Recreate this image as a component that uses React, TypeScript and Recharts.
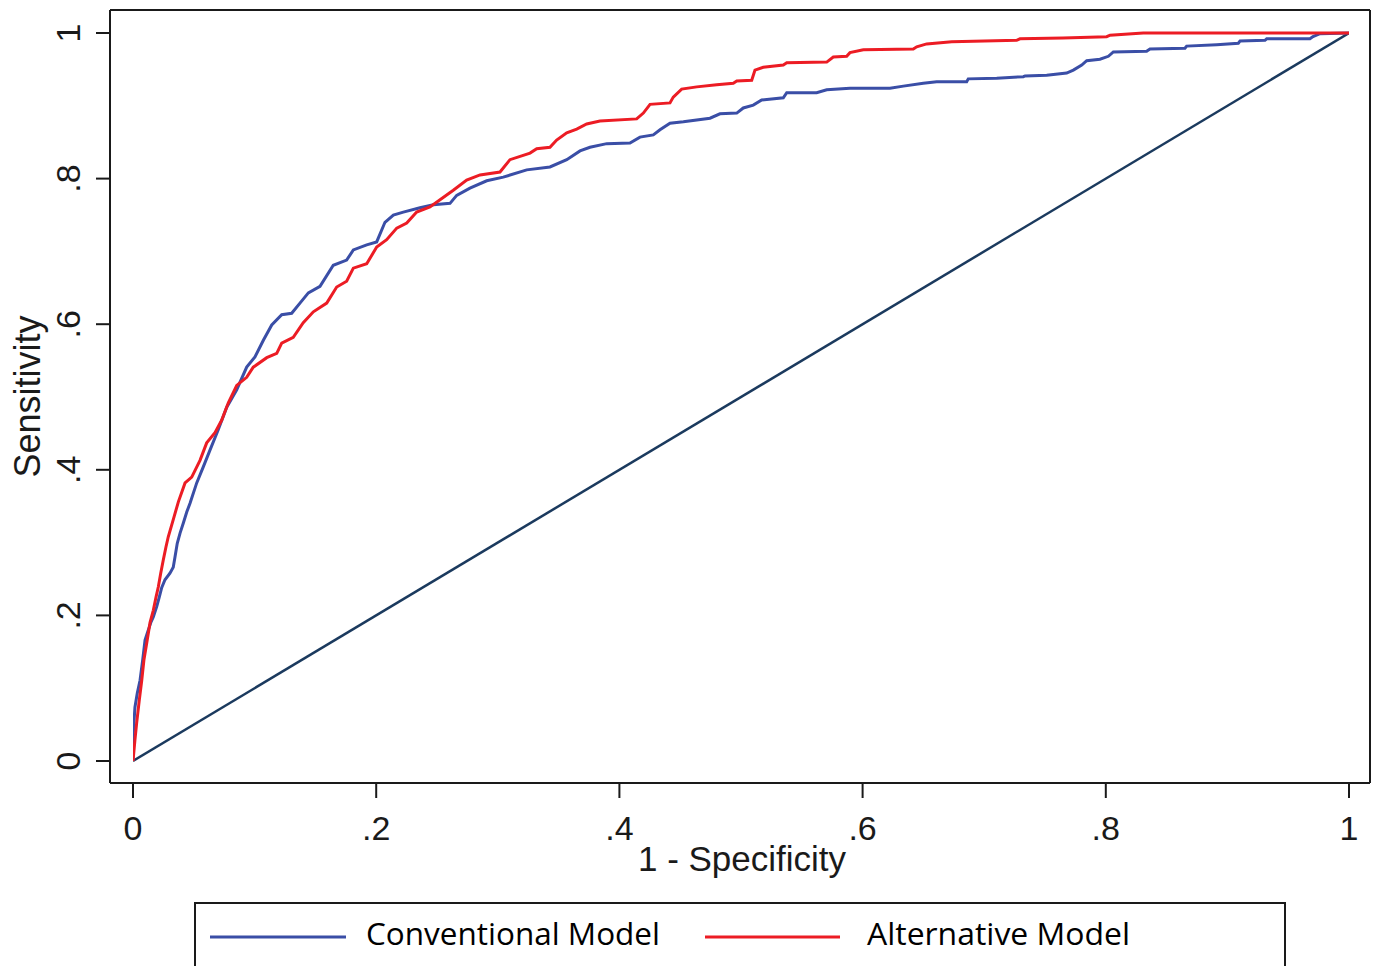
import React from 'react';
import { LineChart, Line, XAxis, YAxis, Legend } from 'recharts';

// 1 - Specificity (x) and Sensitivity (y)
const convX = [0, 0.0002, 0.0016, 0.0035, 0.0058, 0.008, 0.0099, 0.0118, 0.0146, 0.0167, 0.0195, 0.0216, 0.0236, 0.0263, 0.0304, 0.0331, 0.0345, 0.0364, 0.0387, 0.0414, 0.0442, 0.0469, 0.0524, 0.0578, 0.0633, 0.0701, 0.0771, 0.0853, 0.0935, 0.1003, 0.1072, 0.1141, 0.1223, 0.1305, 0.1373, 0.1442, 0.1538, 0.1647, 0.1757, 0.1812, 0.1922, 0.2004, 0.2072, 0.2141, 0.2223, 0.236, 0.247, 0.2607, 0.2662, 0.2771, 0.2909, 0.3045, 0.3238, 0.3429, 0.3567, 0.3676, 0.3758, 0.3896, 0.4087, 0.4169, 0.4279, 0.4334, 0.4416, 0.4526, 0.4745, 0.4827, 0.4965, 0.5019, 0.5101, 0.517, 0.5348, 0.5376, 0.5622, 0.5705, 0.5896, 0.6225, 0.6335, 0.6499, 0.6609, 0.6856, 0.6869, 0.7103, 0.7322, 0.7336, 0.7514, 0.7678, 0.7733, 0.7802, 0.7843, 0.7952, 0.8021, 0.8062, 0.8336, 0.8363, 0.8651, 0.8665, 0.8912, 0.909, 0.9104, 0.9309, 0.9323, 0.9679, 0.9704, 0.9762, 1];
const convY = [0, 0.038, 0.074, 0.093, 0.111, 0.139, 0.166, 0.176, 0.19, 0.198, 0.212, 0.225, 0.238, 0.249, 0.258, 0.266, 0.28, 0.299, 0.313, 0.327, 0.342, 0.354, 0.382, 0.404, 0.427, 0.455, 0.486, 0.51, 0.541, 0.555, 0.578, 0.599, 0.613, 0.615, 0.629, 0.643, 0.652, 0.681, 0.688, 0.702, 0.709, 0.713, 0.74, 0.75, 0.754, 0.76, 0.764, 0.766, 0.777, 0.787, 0.797, 0.802, 0.812, 0.816, 0.826, 0.838, 0.843, 0.848, 0.849, 0.857, 0.86, 0.867, 0.876, 0.878, 0.883, 0.889, 0.89, 0.897, 0.901, 0.908, 0.911, 0.918, 0.918, 0.922, 0.924, 0.924, 0.927, 0.931, 0.933, 0.933, 0.937, 0.938, 0.94, 0.941, 0.942, 0.945, 0.949, 0.956, 0.962, 0.964, 0.968, 0.974, 0.975, 0.978, 0.979, 0.982, 0.984, 0.986, 0.989, 0.99, 0.992, 0.992, 0.995, 0.999, 1];

const altX = [0, 0.0016, 0.003, 0.0052, 0.0072, 0.009, 0.0113, 0.014, 0.0167, 0.0189, 0.0208, 0.0228, 0.0249, 0.0271, 0.029, 0.0318, 0.0337, 0.0373, 0.0428, 0.0483, 0.0551, 0.0606, 0.0674, 0.0729, 0.0784, 0.0853, 0.0935, 0.0989, 0.11, 0.1182, 0.1223, 0.1318, 0.14, 0.1483, 0.1593, 0.1675, 0.1757, 0.1812, 0.1922, 0.2004, 0.2086, 0.2169, 0.2251, 0.2333, 0.2442, 0.2525, 0.2634, 0.2744, 0.2854, 0.3018, 0.31, 0.3265, 0.332, 0.3429, 0.3484, 0.3567, 0.3649, 0.3731, 0.384, 0.4142, 0.4197, 0.4252, 0.4416, 0.4443, 0.4512, 0.4636, 0.48, 0.4937, 0.4965, 0.5088, 0.5115, 0.5183, 0.5348, 0.5376, 0.5705, 0.5759, 0.5869, 0.5896, 0.6006, 0.6417, 0.6445, 0.6527, 0.6733, 0.7267, 0.7294, 0.7648, 0.8007, 0.8035, 0.8308, 1];
const altY = [0, 0.029, 0.052, 0.084, 0.111, 0.139, 0.162, 0.19, 0.207, 0.225, 0.239, 0.258, 0.276, 0.294, 0.308, 0.324, 0.335, 0.356, 0.382, 0.39, 0.413, 0.437, 0.451, 0.468, 0.492, 0.516, 0.527, 0.541, 0.554, 0.56, 0.574, 0.582, 0.602, 0.617, 0.629, 0.651, 0.659, 0.677, 0.683, 0.706, 0.716, 0.732, 0.739, 0.754, 0.761, 0.771, 0.784, 0.798, 0.805, 0.809, 0.826, 0.835, 0.841, 0.843, 0.853, 0.863, 0.868, 0.875, 0.879, 0.882, 0.89, 0.902, 0.904, 0.912, 0.923, 0.926, 0.929, 0.931, 0.934, 0.935, 0.949, 0.953, 0.956, 0.959, 0.96, 0.967, 0.968, 0.973, 0.977, 0.978, 0.981, 0.985, 0.988, 0.99, 0.992, 0.993, 0.995, 0.997, 1, 1];

const refX = [0, 1];
const refY = [0, 1];

const tickValues = [0, 0.2, 0.4, 0.6, 0.8, 1];
const tickLabels = ['0', '.2', '.4', '.6', '.8', '1'];

const seriesNames = ['Conventional Model', 'Alternative Model'];
const BLUE = '#3a4ea6';
const RED = '#ec1c24';
const NAVY = '#1b3a5e';
const INK = '#1a1a1a';

const toRows = (xs: number[], ys: number[]) => xs.map((x, i) => ({ x, y: ys[i] }));
const convData = toRows(convX, convY);
const altData = toRows(altX, altY);
const refData = toRows(refX, refY);

const labelFor = (v: number) => {
  const i = tickValues.findIndex((t) => Math.abs(t - v) < 1e-9);
  return i >= 0 ? tickLabels[i] : String(v);
};

const FONT = '"Liberation Sans", Arial, sans-serif';

const XTick = (props: any) => {
  const { x, payload } = props;
  return (
    <text x={x} y={840} textAnchor="middle" fontFamily={FONT} fontSize={34} fill={INK}>
      {labelFor(payload.value)}
    </text>
  );
};

const YTick = (props: any) => {
  const { y, payload } = props;
  return (
    <text
      x={80}
      y={y}
      textAnchor="middle"
      fontFamily={FONT}
      fontSize={34}
      fill={INK}
      transform={`rotate(-90, 80, ${y})`}
    >
      {labelFor(payload.value)}
    </text>
  );
};

const XTitle = (props: any) => {
  const vb = props.viewBox || { x: 110, y: 783, width: 1260 };
  const cx = vb.x + vb.width / 2 + 2;
  return (
    <text x={cx} y={vb.y + 88} textAnchor="middle" fontFamily={FONT} fontSize={35} fill={INK}>
      1 - Specificity
    </text>
  );
};

const YTitle = (props: any) => {
  const vb = props.viewBox || { x: 0, y: 10, width: 110, height: 773 };
  const cy = vb.y + vb.height / 2;
  const tx = vb.x + 40;
  return (
    <text
      x={tx}
      y={cy}
      textAnchor="middle"
      fontFamily={FONT}
      fontSize={36}
      fill={INK}
      transform={`rotate(-90, ${tx}, ${cy})`}
    >
      Sensitivity
    </text>
  );
};

const LegendBox = () => (
  <svg width={1092} height={80} style={{ display: 'block' }}>
    <rect x={1} y={1} width={1090} height={120} fill="#fff" stroke={INK} strokeWidth={2} />
    <line x1={16} x2={152} y1={35} y2={35} stroke={BLUE} strokeWidth={3} />
    <text x={172} y={43} fontFamily='"Open Sans", sans-serif' fontSize={31} fill="#000" textLength={294} lengthAdjust="spacingAndGlyphs">
      {seriesNames[0]}
    </text>
    <line x1={511} x2={646} y1={35} y2={35} stroke={RED} strokeWidth={3} />
    <text x={673} y={43} fontFamily='"Open Sans", sans-serif' fontSize={31} fill="#000" textLength={263} lengthAdjust="spacingAndGlyphs">
      {seriesNames[1]}
    </text>
  </svg>
);

export default function App() {
  return (
    <div style={{ position: 'absolute', left: 0, top: 0, background: '#fff' }}>
      <LineChart width={1375} height={966} margin={{ top: 8, right: 3, bottom: 0, left: 0 }}>
        <XAxis
          xAxisId="bottom"
          dataKey="x"
          type="number"
          domain={[0, 1]}
          ticks={tickValues}
          padding={{ left: 23, right: 21 }}
          height={183}
          tickSize={15}
          axisLine={{ stroke: INK, strokeWidth: 2 }}
          tickLine={{ stroke: INK, strokeWidth: 2 }}
          tick={<XTick />}
          label={<XTitle />}
          allowDataOverflow
        />
        <XAxis
          xAxisId="top"
          orientation="top"
          dataKey="x"
          type="number"
          domain={[0, 1]}
          ticks={tickValues}
          padding={{ left: 23, right: 21 }}
          height={2}
          tick={false}
          tickLine={false}
          axisLine={{ stroke: INK, strokeWidth: 2 }}
        />
        <YAxis
          yAxisId="left"
          dataKey="y"
          type="number"
          domain={[0, 1]}
          ticks={tickValues}
          padding={{ top: 23, bottom: 22 }}
          width={110}
          tickSize={14}
          axisLine={{ stroke: INK, strokeWidth: 2 }}
          tickLine={{ stroke: INK, strokeWidth: 2 }}
          tick={<YTick />}
          label={<YTitle />}
        />
        <YAxis
          yAxisId="right"
          orientation="right"
          dataKey="y"
          type="number"
          domain={[0, 1]}
          ticks={tickValues}
          padding={{ top: 23, bottom: 22 }}
          width={2}
          tick={false}
          tickLine={false}
          axisLine={{ stroke: INK, strokeWidth: 2 }}
        />
        <Legend
          verticalAlign="middle"
          align="center"
          layout="horizontal"
          content={<LegendBox />}
          wrapperStyle={{ position: 'absolute', left: 194, top: 902, width: 1092, height: 80 }}
        />
        <Line
          xAxisId="bottom"
          yAxisId="left"
          data={refData}
          dataKey="y"
          name="Reference"
          type="linear"
          stroke={NAVY}
          strokeWidth={2.5}
          dot={false}
          activeDot={false}
          legendType="none"
          isAnimationActive={false}
        />
        <Line
          xAxisId="bottom"
          yAxisId="left"
          data={convData}
          dataKey="y"
          name={seriesNames[0]}
          type="linear"
          stroke={BLUE}
          strokeWidth={3}
          dot={false}
          activeDot={false}
          isAnimationActive={false}
        />
        <Line
          xAxisId="bottom"
          yAxisId="left"
          data={altData}
          dataKey="y"
          name={seriesNames[1]}
          type="linear"
          stroke={RED}
          strokeWidth={3}
          dot={false}
          activeDot={false}
          isAnimationActive={false}
        />
      </LineChart>
    </div>
  );
}
